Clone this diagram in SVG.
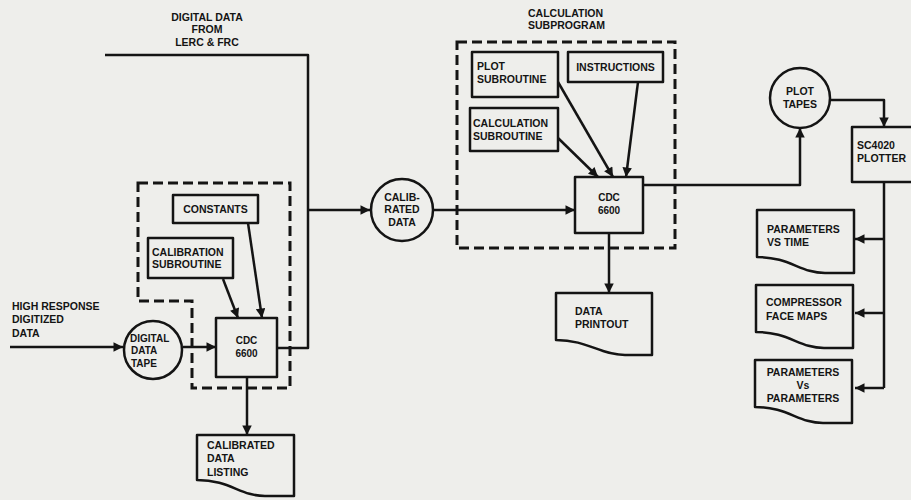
<svg xmlns="http://www.w3.org/2000/svg" width="911" height="500" viewBox="0 0 911 500">
<style>
.bg{fill:#eeeeeb}
.box{fill:#eeeeeb;stroke:#141414;stroke-width:2.5;stroke-linejoin:round}
.dash{fill:none;stroke:#141414;stroke-width:3;stroke-dasharray:10 5}
.ln{fill:none;stroke:#141414;stroke-width:2.5;stroke-linejoin:round}
.ar{marker-end:url(#ah)}
text{font-family:"Liberation Sans",Arial,sans-serif;font-weight:bold;font-size:10.5px;fill:#141414}
text.s{font-size:10px}
.c{text-anchor:middle}
</style>
<defs>
<marker id="ah" viewBox="0 0 10 10" refX="10" refY="5" markerWidth="4.4" markerHeight="3.8" orient="auto" markerUnits="strokeWidth">
<path d="M0,0 L10,5 L0,10 Z" fill="#141414"/>
</marker>
</defs>
<rect class="bg" x="0" y="0" width="911" height="500"/>

<g id="boundaries">
<path id="cal-boundary" class="dash" d="M138,183 H290 V388 H192 V301 H138 Z"/>
<rect id="calc-subprogram" class="dash" x="457" y="42" width="218" height="206"/>
</g>

<g id="connectors">
<path class="ln ar" d="M10,347 H123"/>
<path class="ln ar" d="M183,347 H216"/>
<path class="ln ar" d="M248,223 L262,318"/>
<path class="ln ar" d="M223,279 L238,318"/>
<path class="ln ar" d="M247,377 V435"/>
<path class="ln" d="M105,55 H308 V348 H277"/>
<path class="ln ar" d="M308,210 H370"/>
<path class="ln ar" d="M433,210 H575"/>
<path class="ln ar" d="M558,82 L613,177"/>
<path class="ln ar" d="M558,138 L598,177"/>
<path class="ln ar" d="M638,82 L626,177"/>
<path class="ln ar" d="M609,233 V293"/>
<path class="ln ar" d="M643,185 H800 V128"/>
<path class="ln ar" d="M830,100 H884 V127"/>
<path class="ln" d="M884,182 V388"/>
<path class="ln ar" d="M884,239 H855"/>
<path class="ln ar" d="M884,313 H855"/>
<path class="ln ar" d="M884,388 H855"/>
</g>

<g id="labels">
<text x="12" y="310">HIGH RESPONSE</text>
<text x="12" y="323">DIGITIZED</text>
<text x="12" y="337">DATA</text>
<text class="c" x="207" y="21">DIGITAL DATA</text>
<text class="c" x="207" y="33">FROM</text>
<text class="c" x="207" y="46">LERC &amp; FRC</text>
<text x="528" y="17">CALCULATION</text>
<text x="528" y="29">SUBPROGRAM</text>
</g>

<g id="constants">
<rect class="box" x="173" y="195" width="85" height="28"/>
<text class="c" x="215.5" y="213">CONSTANTS</text>
</g>
<g id="calibration-subroutine">
<rect class="box" x="148" y="238" width="85" height="40"/>
<text x="152" y="256">CALIBRATION</text>
<text x="152" y="268">SUBROUTINE</text>
</g>
<g id="cdc6600-a">
<rect class="box" x="216" y="318" width="61" height="59"/>
<text class="c s" x="246.5" y="344">CDC</text>
<text class="c s" x="246.5" y="357">6600</text>
</g>
<g id="digital-data-tape">
<circle class="box" cx="153" cy="350" r="29"/>
<text class="s" x="130" y="342">DIGITAL</text>
<text class="s" x="131" y="354">DATA</text>
<text class="s" x="131" y="367">TAPE</text>
</g>
<g id="calibrated-data-listing">
<path class="box" d="M197,435 H294 V496 H265 C240,496 230,480 197,480 Z"/>
<text x="207" y="449">CALIBRATED</text>
<text x="207" y="462">DATA</text>
<text x="207" y="476">LISTING</text>
</g>
<g id="calibrated-data">
<circle class="box" cx="402" cy="210" r="31"/>
<text class="c" x="402" y="201">CALIB-</text>
<text class="c" x="402" y="213">RATED</text>
<text class="c" x="402" y="226">DATA</text>
</g>
<g id="plot-subroutine">
<rect class="box" x="472" y="52" width="86" height="45"/>
<text x="477" y="70">PLOT</text>
<text x="477" y="83">SUBROUTINE</text>
</g>
<g id="instructions">
<rect class="box" x="568" y="52" width="95" height="30"/>
<text class="c" x="615.5" y="71">INSTRUCTIONS</text>
</g>
<g id="calculation-subroutine">
<rect class="box" x="470" y="108" width="88" height="43"/>
<text x="473" y="127">CALCULATION</text>
<text x="473" y="140">SUBROUTINE</text>
</g>
<g id="cdc6600-b">
<rect class="box" x="575" y="177" width="68" height="56"/>
<text class="c s" x="609" y="201">CDC</text>
<text class="c s" x="609" y="214">6600</text>
</g>
<g id="data-printout">
<path class="box" d="M556,293 H652 V355 H625 C600,355 588,340 556,340 Z"/>
<text x="575" y="315">DATA</text>
<text x="575" y="328">PRINTOUT</text>
</g>
<g id="plot-tapes">
<circle class="box" cx="800" cy="98" r="30"/>
<text class="c" x="800" y="95">PLOT</text>
<text class="c" x="800" y="108">TAPES</text>
</g>
<g id="sc4020-plotter">
<rect class="box" x="852" y="127" width="70" height="55"/>
<text x="857" y="149">SC4020</text>
<text x="857" y="162">PLOTTER</text>
</g>
<g id="parameters-vs-time">
<path class="box" d="M757,210 H854 V273 H825 C800,273 790,257 757,257 Z"/>
<text x="767" y="233">PARAMETERS</text>
<text x="767" y="246">VS TIME</text>
</g>
<g id="compressor-face-maps">
<path class="box" d="M756,285 H853 V348 H824 C799,348 789,332 756,332 Z"/>
<text x="766" y="306">COMPRESSOR</text>
<text x="766" y="320">FACE MAPS</text>
</g>
<g id="parameters-vs-parameters">
<path class="box" d="M755,360 H852 V423 H823 C798,423 788,407 755,407 Z"/>
<text class="c" x="803" y="376">PARAMETERS</text>
<text class="c" x="803" y="389">Vs</text>
<text class="c" x="803" y="402">PARAMETERS</text>
</g>
</svg>
